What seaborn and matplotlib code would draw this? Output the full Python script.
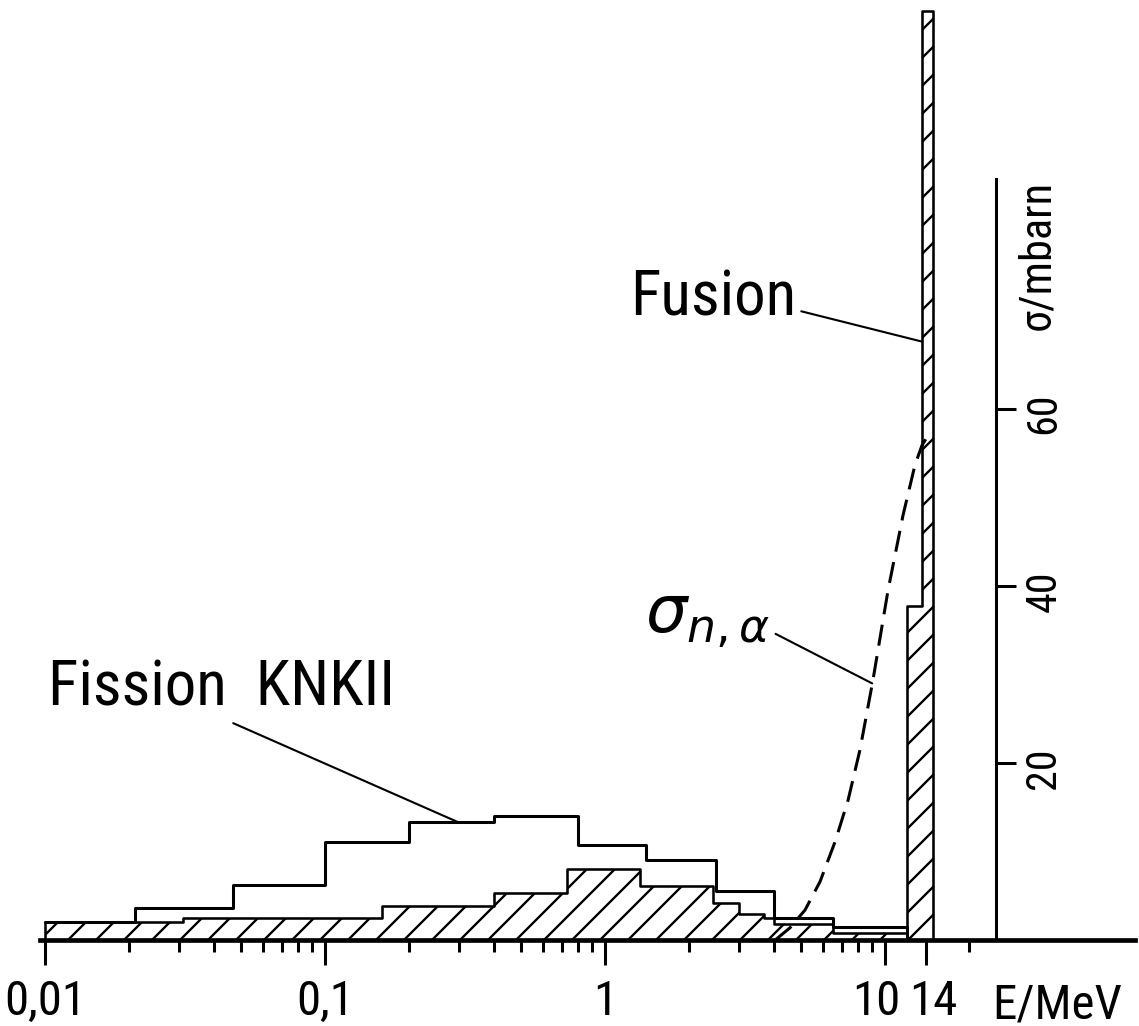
import numpy as np
import matplotlib
matplotlib.use("Agg")
import matplotlib.pyplot as plt
from matplotlib import font_manager
from matplotlib.ticker import FixedLocator, NullLocator
from matplotlib.transforms import offset_copy
import seaborn as sns

# Fission spectrum KNK II (open step outline), bin edges in MeV
fission_edges = [0.01, 0.021, 0.047, 0.1, 0.2, 0.4, 0.8, 1.4, 2.5, 4.0, 6.5, 12.0]
fission_values = [2.0, 3.6, 6.2, 11.1, 13.3, 14.0, 10.8, 9.0, 5.5, 2.5, 1.5]

# Fusion spectrum (hatched), bin edges in MeV
fusion_edges = [0.01, 0.031, 0.16, 0.4, 0.73, 1.33, 2.43, 3.0, 3.7, 4.0, 6.5, 12.0, 13.6, 14.8]
fusion_values = [2.0, 2.5, 3.9, 5.3, 8.0, 6.1, 4.2, 3.0, 2.5, 1.8, 0.8, 37.8, 105.0]

# (n,alpha) cross section
sigma_energy = [4.05, 4.58, 5.18, 5.86, 6.63, 7.38, 8.14, 9.06, 10.25, 11.6, 12.8, 13.56, 14.5]
sigma_mbarn = [0.0, 1.4, 3.4, 6.6, 11.1, 15.8, 21.5, 29.4, 39.5, 48.0, 53.7, 55.9, 57.4]

# axis ticks
major_ticks = [0.01, 0.1, 1, 10, 14]
major_labels = ["0,01", "0,1", "1", "10", "14"]
minor_ticks = [m * d for d in (0.01, 0.1, 1) for m in range(2, 10)] + [20]
sigma_ticks = [20, 40, 60]
sigma_labels = ["20", "40", "60"]

sns.set_theme(style="white")

# pick a narrow sans if one is installed (the original lettering is condensed)
fonts = font_manager.fontManager.ttflist
names = {f.name for f in fonts}
family, stretch, scale = "Roboto", "normal", 0.88
for cand in ("Liberation Sans Narrow", "DejaVu Sans Condensed", "Roboto Condensed",
             "Noto Sans Condensed", "Open Sans Condensed"):
    if cand in names:
        family, scale = cand, 1.0
        break
else:
    for cand in ("Noto Sans", "Open Sans", "DejaVu Sans"):
        if any(f.name == cand and f.stretch in ("condensed", "semi-condensed", "extra-condensed")
               for f in fonts):
            family, stretch, scale = cand, "condensed", 1.0
            break
if family == "Roboto" and "Roboto" not in names:
    family = "DejaVu Sans"
    scale = 0.84

plt.rcParams['font.family'] = [family, 'DejaVu Sans']
plt.rcParams['font.stretch'] = stretch
plt.rcParams['text.color'] = 'black'
plt.rcParams['mathtext.fontset'] = 'dejavusans'
plt.rcParams['hatch.linewidth'] = 1.0
plt.rcParams['hatch.color'] = 'black'

DPI = 168
W, H = 1139, 1026
fig = plt.figure(figsize=(W / DPI, H / DPI), dpi=DPI)
ax = fig.add_axes([0, 0, 1, 1])
ax.set_xscale('log')
ax.set_xlim(10 ** (-2 - 45 / 280), 10 ** (-2 + 1094 / 280))
ax.set_ylim(-9.7, 106.2)
ax.patch.set_alpha(0)


def step_outline(edges, values, close_left=True):
    xs = list(edges) + [edges[-1]]
    ys = list(values) + [values[-1], 0]
    if close_left:
        xs = [edges[0]] + xs
        ys = [0] + ys
    return xs, ys


# fusion spectrum: hatched fill plus outline
fx = list(fusion_edges)
fy = list(fusion_values) + [fusion_values[-1]]
ax.fill_between(fx, fy, step='post', facecolor='none', edgecolor='black',
                hatch='//', linewidth=0)
xs, ys = step_outline(fusion_edges, fusion_values)
sns.lineplot(x=xs, y=ys, ax=ax, estimator=None, sort=False,
             drawstyle='steps-post', color='black', lw=1.1)

# fission spectrum outline
xs, ys = step_outline(fission_edges, fission_values, close_left=False)
sns.lineplot(x=xs, y=ys, ax=ax, estimator=None, sort=False,
             drawstyle='steps-post', color='black', lw=1.3)

# sigma(n,alpha) dashed curve
sns.lineplot(x=sigma_energy, y=sigma_mbarn, ax=ax, estimator=None, sort=False,
             color='black', lw=1.3, linestyle=(0, (7, 3.5)))

# axes: x axis along zero, sigma axis at 25 MeV
for side in ('top', 'left'):
    ax.spines[side].set_visible(False)
ax.spines['bottom'].set_position(('data', 0))
ax.spines['bottom'].set_bounds(0.0096, 78)
ax.spines['bottom'].set_linewidth(2.0)
ax.spines['bottom'].set_color('black')
ax.spines['right'].set_position(('data', 25))
ax.spines['right'].set_bounds(0, 86)
ax.spines['right'].set_linewidth(1.3)
ax.spines['right'].set_color('black')

ax.xaxis.set_major_locator(FixedLocator(major_ticks))
ax.xaxis.set_minor_locator(FixedLocator(minor_ticks))
ax.set_xticklabels(major_labels)
ax.tick_params(axis='x', which='major', direction='out', length=10.7, width=1.3,
               pad=6, labelsize=21 * scale, colors='black', bottom=True)
ax.tick_params(axis='x', which='minor', direction='out', length=5, width=1.3,
               colors='black', bottom=True)

ax.yaxis.set_ticks_position('right')
ax.yaxis.set_major_locator(FixedLocator(sigma_ticks))
ax.yaxis.set_minor_locator(NullLocator())
ax.set_yticklabels(sigma_labels)
ax.tick_params(axis='y', which='major', direction='out', length=8.6, width=1.3,
               pad=3, labelsize=18 * scale, labelrotation=90, colors='black',
               right=True, left=False)

# nudge the crowded "10" and "14" labels apart, as in the drawing
for lbl, txt in zip(ax.get_xticklabels(), major_labels):
    if txt == "10":
        lbl.set_transform(offset_copy(lbl.get_transform(), fig=fig, x=-9, units='dots'))
    elif txt == "14":
        lbl.set_transform(offset_copy(lbl.get_transform(), fig=fig, x=7, units='dots'))

ax.text(34.9, 77.4, "σ/mbarn", rotation=90, ha='center', va='center', fontsize=19 * scale)
fig.text(992 / W, 1 - 1018 / H, "E/MeV", ha='left', va='baseline', fontsize=21 * scale)

leader = dict(arrowstyle='-', lw=0.9, color='black', shrinkA=0, shrinkB=0)
ax.annotate("Fusion", xy=(13.6, 67.6), xycoords='data',
            xytext=(630, H - 315), textcoords='figure pixels',
            ha='left', va='baseline', fontsize=27 * scale,
            arrowprops=dict(leader, relpos=(1.0, 0.3)))
ax.annotate("Fission  KNKII", xy=(0.30, 13.3), xycoords='data',
            xytext=(48, H - 705), textcoords='figure pixels',
            ha='left', va='baseline', fontsize=27 * scale,
            arrowprops=dict(leader, relpos=(0.5, 0.0)))
ax.annotate(r"$\sigma_{n,\alpha}$", xy=(9.0, 29.0), xycoords='data',
            xytext=(645, H - 632), textcoords='figure pixels',
            ha='left', va='baseline', fontsize=28,
            arrowprops=dict(leader, relpos=(1.0, 0.3)))

fig.savefig("out.png", dpi=DPI, facecolor='white')
